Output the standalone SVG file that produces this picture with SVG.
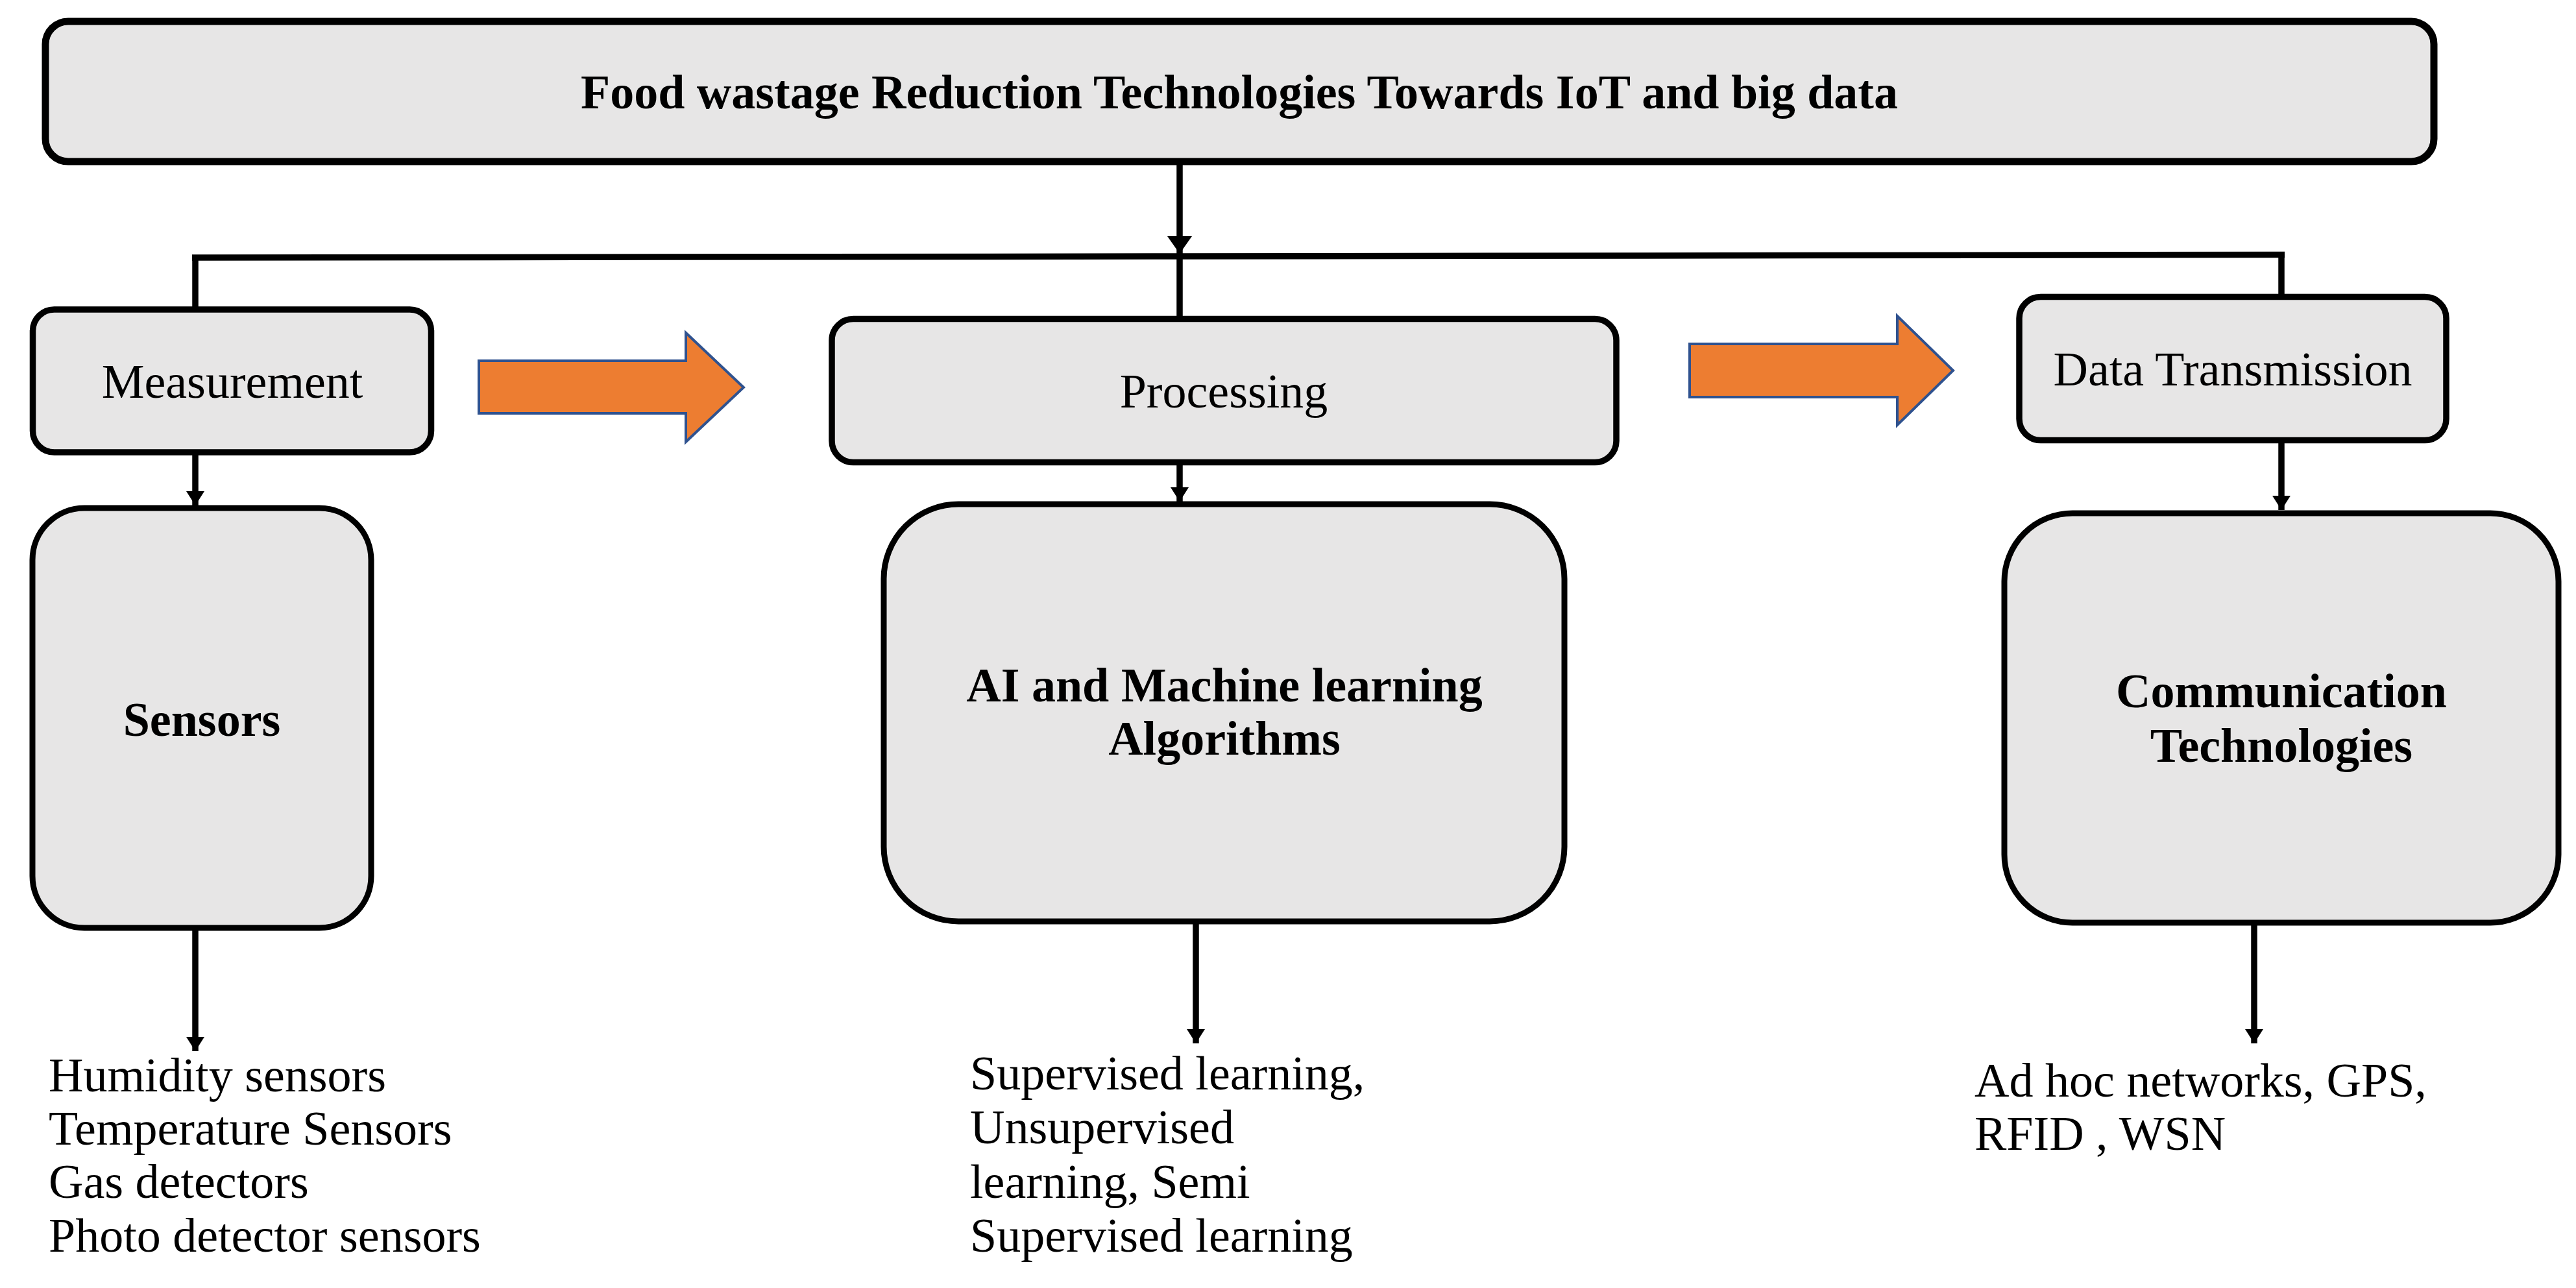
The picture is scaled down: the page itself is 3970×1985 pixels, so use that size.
<svg xmlns="http://www.w3.org/2000/svg" width="3970" height="1985" viewBox="0 0 3970 1985">
<style>
.box{fill:#E7E6E6;stroke:#000;}
.t{font-family:"Liberation Serif","Times New Roman",serif;font-size:74px;fill:#000;}
.b{font-weight:bold;}
.c{text-anchor:middle;}
.ln{fill:none;stroke:#000;stroke-width:9.5;}
.big{fill:#ED7D31;stroke:#2F528F;stroke-width:4;}
</style>
<defs>
<marker id="ah" markerUnits="userSpaceOnUse" markerWidth="24" markerHeight="30" refX="22" refY="14" orient="auto">
<path d="M0,0 L22,14 L0,28 Z" fill="#000"/>
</marker>
<marker id="ah2" markerUnits="userSpaceOnUse" markerWidth="30" markerHeight="40" refX="27" refY="19" orient="auto">
<path d="M0,0 L27,19 L0,38 Z" fill="#000"/>
</marker>
</defs>
<rect width="3970" height="1985" fill="#fff"/>
<g id="connectors">
<line class="ln" x1="1818" y1="254" x2="1818" y2="391" stroke-width="11" marker-end="url(#ah2)"/>
<polyline class="ln" points="296,397 1818,395 3521,392.5" stroke-width="11.5"/>
<line class="ln" x1="301" y1="397" x2="301" y2="474"/>
<line class="ln" x1="1818" y1="395" x2="1818" y2="488"/>
<line class="ln" x1="3516" y1="392" x2="3516" y2="454"/>
<line class="ln" x1="301" y1="701" x2="301" y2="779" marker-end="url(#ah)"/>
<line class="ln" x1="1818" y1="716" x2="1818" y2="773" marker-end="url(#ah)"/>
<line class="ln" x1="3516" y1="682" x2="3516" y2="786" marker-end="url(#ah)"/>
<line class="ln" x1="301" y1="1434" x2="301" y2="1620" marker-end="url(#ah)"/>
<line class="ln" x1="1843" y1="1424" x2="1843" y2="1608" marker-end="url(#ah)"/>
<line class="ln" x1="3474" y1="1426" x2="3474" y2="1608" marker-end="url(#ah)"/>
<polygon class="big" points="738,556 1057,556 1057,513 1146,597 1057,681 1057,637 738,637"/>
<polygon class="big" points="2604,530 2924,530 2924,487 3010,571 2924,655 2924,612 2604,612"/>
</g>
<g id="title">
<rect class="box" x="70" y="33" width="3681" height="216" rx="35" stroke-width="11"/>
<text class="t b c" x="1910" y="167" font-size="73">Food wastage Reduction Technologies Towards IoT and big data</text>
</g>
<g id="measurement">
<rect class="box" x="50.5" y="477" width="614" height="220" rx="33" stroke-width="9.5"/>
<text class="t c" x="358" y="613">Measurement</text>
</g>
<g id="processing">
<rect class="box" x="1282" y="491.5" width="1209" height="221" rx="33" stroke-width="9.5"/>
<text class="t c" x="1886" y="628">Processing</text>
</g>
<g id="datatransmission">
<rect class="box" x="3112" y="457.5" width="658" height="221" rx="33" stroke-width="9.5"/>
<text class="t c" x="3441" y="594">Data Transmission</text>
</g>
<g id="sensors">
<rect class="box" x="50" y="783" width="522" height="647" rx="80" stroke-width="9"/>
<text class="t b c" x="311" y="1134">Sensors</text>
</g>
<g id="ai">
<rect class="box" x="1362" y="777" width="1049" height="643" rx="115" stroke-width="9"/>
<text class="t b c" x="1887" y="1081">AI and Machine learning</text>
<text class="t b c" x="1887" y="1163">Algorithms</text>
</g>
<g id="comm">
<rect class="box" x="3089" y="791" width="854" height="631" rx="105" stroke-width="9"/>
<text class="t b c" x="3516" y="1090">Communication</text>
<text class="t b c" x="3516" y="1174">Technologies</text>
</g>
<g id="sensors-list">
<text class="t" x="75" y="1682">Humidity sensors</text>
<text class="t" x="75" y="1764">Temperature Sensors</text>
<text class="t" x="75" y="1846">Gas detectors</text>
<text class="t" x="75" y="1929">Photo detector sensors</text>
</g>
<g id="ai-list">
<text class="t" x="1495" y="1679">Supervised learning,</text>
<text class="t" x="1495" y="1762">Unsupervised</text>
<text class="t" x="1495" y="1846">learning, Semi</text>
<text class="t" x="1495" y="1929">Supervised learning</text>
</g>
<g id="comm-list">
<text class="t" x="3043" y="1690">Ad hoc networks, GPS,</text>
<text class="t" x="3043" y="1772">RFID , WSN</text>
</g>
</svg>
